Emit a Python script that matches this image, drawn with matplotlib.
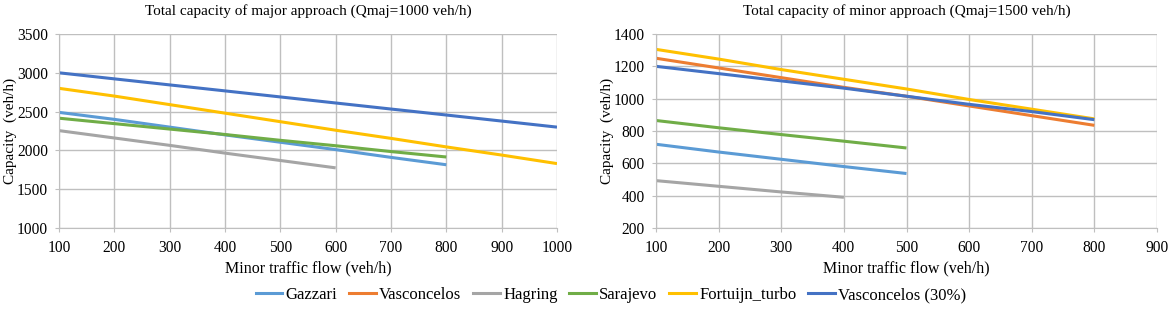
import numpy as np
import matplotlib.pyplot as plt
from matplotlib.lines import Line2D

plt.rcParams['font.family'] = ['Liberation Serif', 'DejaVu Serif']

names = ['Gazzari', 'Vasconcelos', 'Hagring', 'Sarajevo', 'Fortuijn_turbo', 'Vasconcelos (30%)']
colors = ['#5B9BD5', '#ED7D31', '#A5A5A5', '#70AD47', '#FFC000', '#4472C4']

# left chart: major approach, Qmaj=1000
maj_flow = [100, 200, 300, 400, 500, 600, 700, 800, 900, 1000]
maj_gazzari = [2490, 2400, 2300, 2200, 2105, 2010, 1910, 1815]
maj_hagring = [2255, 2160, 2065, 1965, 1870, 1775]
maj_sarajevo = [2415, 2345, 2275, 2205, 2130, 2060, 1985, 1915]
maj_fortuijn = [2800, 2700, 2590, 2480, 2370, 2260, 2155, 2045, 1940, 1830]
maj_vasc30 = [3000, 2922, 2844, 2767, 2689, 2611, 2533, 2456, 2378, 2300]

# right chart: minor approach, Qmaj=1500
min_flow = [100, 200, 300, 400, 500, 600, 700, 800]
min_gazzari = [718, 670, 625, 580, 537]
min_vasc = [1250, 1190, 1130, 1070, 1015, 955, 895, 835]
min_hagring = [493, 458, 423, 390]
min_sarajevo = [865, 820, 778, 737, 695]
min_fortuijn = [1305, 1245, 1180, 1120, 1060, 995, 935, 875]
min_vasc30 = [1200, 1155, 1110, 1065, 1015, 965, 920, 870]

fig = plt.figure(figsize=(11.73, 3.13), dpi=100)
ax1 = fig.add_axes([59 / 1173, 1 - 228 / 313, (557 - 59) / 1173, (228 - 34) / 313])
ax2 = fig.add_axes([656 / 1173, 1 - 228 / 313, (1157 - 656) / 1173, (228 - 34) / 313])

lw = 2.2
left = [(maj_gazzari, 0), (maj_hagring, 2), (maj_sarajevo, 3), (maj_fortuijn, 4), (maj_vasc30, 5)]
for vals, i in left:
    ax1.plot(maj_flow[:len(vals)], vals, color=colors[i], lw=lw, solid_capstyle='butt')

right = [(min_gazzari, 0), (min_vasc, 1), (min_hagring, 2), (min_sarajevo, 3), (min_fortuijn, 4), (min_vasc30, 5)]
for vals, i in right:
    ax2.plot(min_flow[:len(vals)], vals, color=colors[i], lw=lw, solid_capstyle='butt')

def style(ax, xlim, ylim, yticks, title):
    ax.set_xlim(*xlim)
    ax.set_ylim(*ylim)
    ax.set_xticks(np.arange(xlim[0], xlim[1] + 1, 100))
    ax.set_yticks(yticks)
    ax.grid(True, color='#BFBFBF', lw=1)
    ax.set_axisbelow(True)
    for s in ['top', 'right']:
        ax.spines[s].set_visible(False)
    for s in ['left', 'bottom']:
        ax.spines[s].set_color('#BFBFBF')
    ax.tick_params(length=3, color='#BFBFBF', labelsize=11.2)
    ax.tick_params(axis='x', pad=6)
    ax.tick_params(axis='y', pad=5)
    ax.set_xlabel('Minor traffic flow (veh/h)', fontsize=11.5, labelpad=3)
    ax.set_ylabel('Capacity  (veh/h)', fontsize=11, labelpad=0)
    ax.set_title(title, fontsize=11, pad=14)

style(ax1, (100, 1000), (1000, 3500), np.arange(1000, 3501, 500),
      'Total capacity of major approach (Qmaj=1000 veh/h)')
style(ax2, (100, 900), (200, 1400), np.arange(200, 1401, 200),
      'Total capacity of minor approach (Qmaj=1500 veh/h)')

handles = [Line2D([0], [0], color=c, lw=lw) for c in colors]
fig.legend(handles, names, loc='center', bbox_to_anchor=(611 / 1173, 1 - 295 / 313), ncol=6,
           frameon=False, fontsize=12, handlelength=1.6, handletextpad=0.2, columnspacing=0.7)

fig.savefig('out.png', dpi=100)
